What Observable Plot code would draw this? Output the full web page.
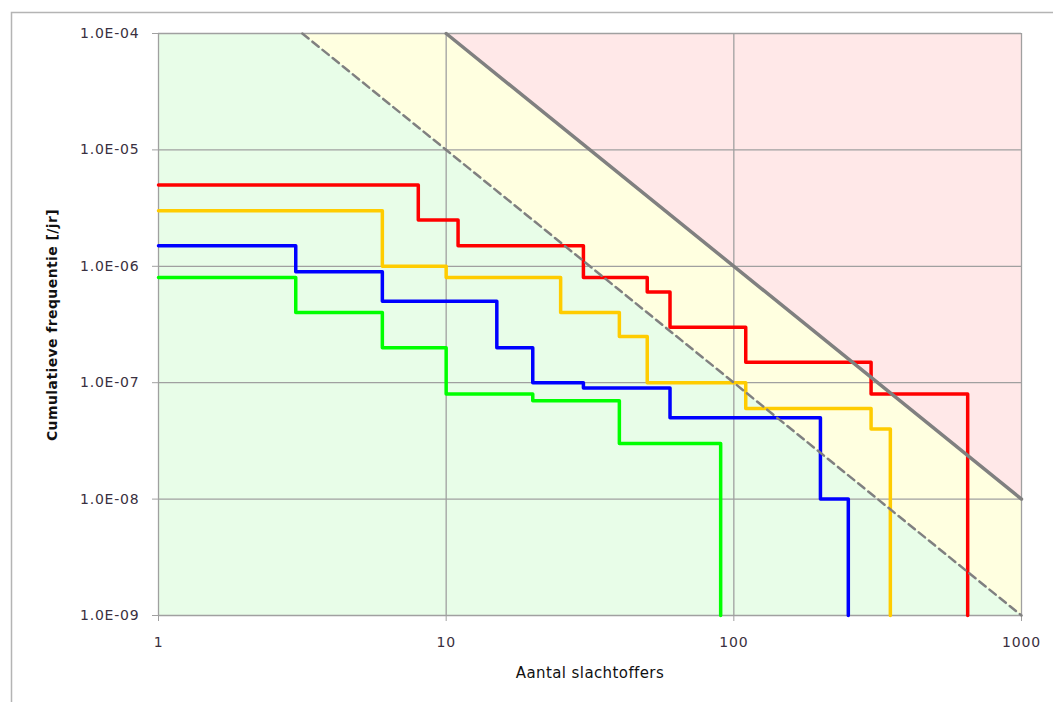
<!DOCTYPE html>
<html>
<head>
<meta charset="utf-8">
<script src="https://cdn.jsdelivr.net/npm/d3@7"></script>
<script src="https://cdn.jsdelivr.net/npm/@observablehq/plot@0.6"></script>
<style>
  body { margin: 0; background: #fff; }
  #chart svg { display: block; }
</style>
</head>
<body>
<div id="chart"></div>
<script>
// Axis ticks and labels
const xTicks = [1, 10, 100, 1000];
const xTickLabels = ["1", "10", "100", "1000"];
const yTicks = [1e-4, 1e-5, 1e-6, 1e-7, 1e-8, 1e-9];
const yTickLabels = ["1.0E-04", "1.0E-05", "1.0E-06", "1.0E-07", "1.0E-08", "1.0E-09"];

const xTitle = "Aantal slachtoffers";
const yTitle = "Cumulatieve frequentie [/jr]";

// FN curves (number of victims where step starts, cumulative frequency)
const redN    = [1, 8, 11, 30, 50, 60, 110, 300, 650];
const redF    = [5e-6, 2.5e-6, 1.5e-6, 8e-7, 6e-7, 3e-7, 1.5e-7, 8e-8, 1e-9];
const yellowN = [1, 6, 10, 25, 40, 50, 110, 300, 350];
const yellowF = [3e-6, 1e-6, 8e-7, 4e-7, 2.5e-7, 1e-7, 6e-8, 4e-8, 1e-9];
const blueN   = [1, 3, 6, 15, 20, 30, 60, 200, 250];
const blueF   = [1.5e-6, 9e-7, 5e-7, 2e-7, 1e-7, 9e-8, 5e-8, 1e-8, 1e-9];
const greenN  = [1, 3, 6, 10, 20, 40, 90];
const greenF  = [8e-7, 4e-7, 2e-7, 8e-8, 7e-8, 3e-8, 1e-9];

// Norm lines (end points)
const limitN = [10, 1000];
const limitF = [1e-4, 1e-8];
const guideN = [3.162, 1000];
const guideF = [1e-4, 1e-9];
const topF = 1e-4;

const toRows = (ns, fs) => ns.map((n, i) => ({n, f: fs[i]}));
const red = toRows(redN, redF);
const yellow = toRows(yellowN, yellowF);
const blue = toRows(blueN, blueF);
const green = toRows(greenN, greenF);
const limit = toRows(limitN, limitF);
const guide = toRows(guideN, guideF);

const xLab = new Map(xTicks.map((d, i) => [d, xTickLabels[i]]));
const yLab = new Map(yTicks.map((d, i) => [d, yTickLabels[i]]));

const gridColor = "#a0a0a0";

const svg = Plot.plot({
  width: 1053,
  height: 702,
  marginLeft: 158,
  marginRight: 32,
  marginTop: 33,
  marginBottom: 87,
  style: {fontFamily: "'DejaVu Sans', sans-serif", fontSize: "14px", background: "#fff", overflow: "visible"},
  x: {type: "log", domain: [1, 1000]},
  y: {type: "log", domain: [1e-9, 1e-4]},
  marks: [
    Plot.frame({fill: "#e8fde8", stroke: null}),
    Plot.areaY(guide, {x: "n", y1: "f", y2: () => topF, fill: "#ffffe0"}),
    Plot.areaY(limit, {x: "n", y1: "f", y2: () => topF, fill: "#ffe8e8"}),
    Plot.ruleX(xTicks, {stroke: gridColor, strokeWidth: 1.3}),
    Plot.ruleY(yTicks, {stroke: gridColor, strokeWidth: 1.3}),
    Plot.axisX({ticks: xTicks, tickFormat: d => xLab.get(d), tickSize: 6, tickPadding: 16,
      stroke: gridColor, fill: "#3a3040", label: null, fontSize: 14}),
    Plot.axisY({ticks: yTicks, tickFormat: d => yLab.get(d), tickSize: 6, tickPadding: 13,
      stroke: gridColor, fill: "#3a3040", label: null, fontSize: 14}),
    Plot.line(red, {x: "n", y: "f", curve: "step-after", stroke: "#ff0000", strokeWidth: 3.5}),
    Plot.line(yellow, {x: "n", y: "f", curve: "step-after", stroke: "#ffcc00", strokeWidth: 3.5}),
    Plot.line(blue, {x: "n", y: "f", curve: "step-after", stroke: "#0000ff", strokeWidth: 3.5}),
    Plot.line(green, {x: "n", y: "f", curve: "step-after", stroke: "#00ff00", strokeWidth: 3.5}),
    Plot.line(guide, {x: "n", y: "f", stroke: "#808080", strokeWidth: 2.5, strokeDasharray: "8,5"}),
    Plot.line(limit, {x: "n", y: "f", stroke: "#808080", strokeWidth: 3.5})
  ]
});

const s = d3.select(svg);
s.selectAll("g[aria-label='x-axis tick label'] text, g[aria-label='y-axis tick label'] text")
  .style("letter-spacing", "0.8px");
// outer chart border
s.append("path").attr("d", "M11.5,702V12.5H1053").attr("fill", "none")
  .attr("stroke", "#b4b4b4").attr("stroke-width", 1.5);
// axis titles
s.append("text").attr("x", 590).attr("y", 678).attr("text-anchor", "middle")
  .attr("font-size", 15).attr("fill", "#111").style("letter-spacing", "0.4px").text(xTitle);
s.append("text").attr("transform", "translate(52,325) rotate(-90)").attr("text-anchor", "middle")
  .attr("dominant-baseline", "central").attr("font-size", 14).attr("font-weight", "bold")
  .attr("fill", "#111").style("letter-spacing", "0.4px").text(yTitle);

document.getElementById("chart").appendChild(svg);
</script>
</body>
</html>
